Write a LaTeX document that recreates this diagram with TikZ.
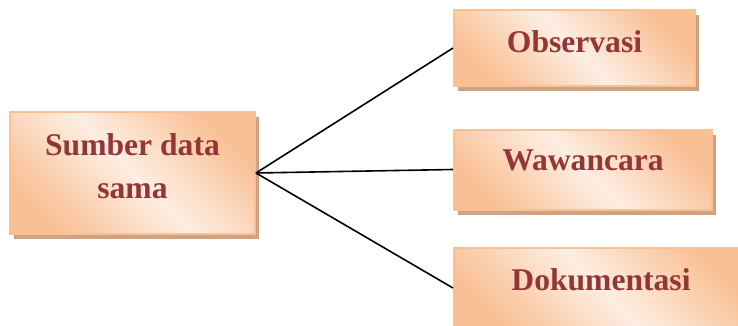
\documentclass[tikz,border=0pt]{standalone}
\usepackage{fontspec}
\setmainfont{Liberation Serif}
\usetikzlibrary{shadows}
\definecolor{boxorange}{HTML}{F9C095}
\definecolor{boxlight}{HTML}{FDEEE3}
\definecolor{boxborder}{HTML}{FAC08F}
\definecolor{boxshadow}{HTML}{CFA283}
\definecolor{labelred}{HTML}{943634}

\begin{document}
\begin{tikzpicture}[x=0.5pt, y=-0.5pt,
    databox/.style={draw=boxborder, line width=1pt,
        left color=boxorange, right color=boxorange, middle color=boxlight,
        shading angle=-45,
        drop shadow={shadow xshift=2pt, shadow yshift=-2.5pt, fill=boxshadow, opacity=1},
        font=\fontsize{15.8}{21.5}\selectfont\bfseries, text=labelred,
        align=center, inner sep=0pt, text depth=8pt},
    link/.style={black, line width=0.8pt}]
    \useasboundingbox (0,0) rectangle (738,326);

    % Source box
    \node[databox, minimum width=122.5pt, minimum height=60.5pt, text depth=7pt] (src) at (132.5,173) {Sumber data\\sama};

    % Techniques
    \node[databox, minimum width=120.5pt, minimum height=38pt, text depth=6.75pt] (obs) at (574.5,48) {Observasi};
    \node[databox, minimum width=129pt, minimum height=40pt, text depth=9pt] (waw) at (583,169.5) {Wawancara};
    \node[databox, minimum width=147pt, minimum height=40pt] (dok) at (601,288) {Dokumentasi};

    % Connectors
    \draw[link] (src.east) -- (obs.west);
    \draw[link] (src.east) -- (waw.west);
    \draw[link] (src.east) -- (dok.west);
\end{tikzpicture}
\end{document}
